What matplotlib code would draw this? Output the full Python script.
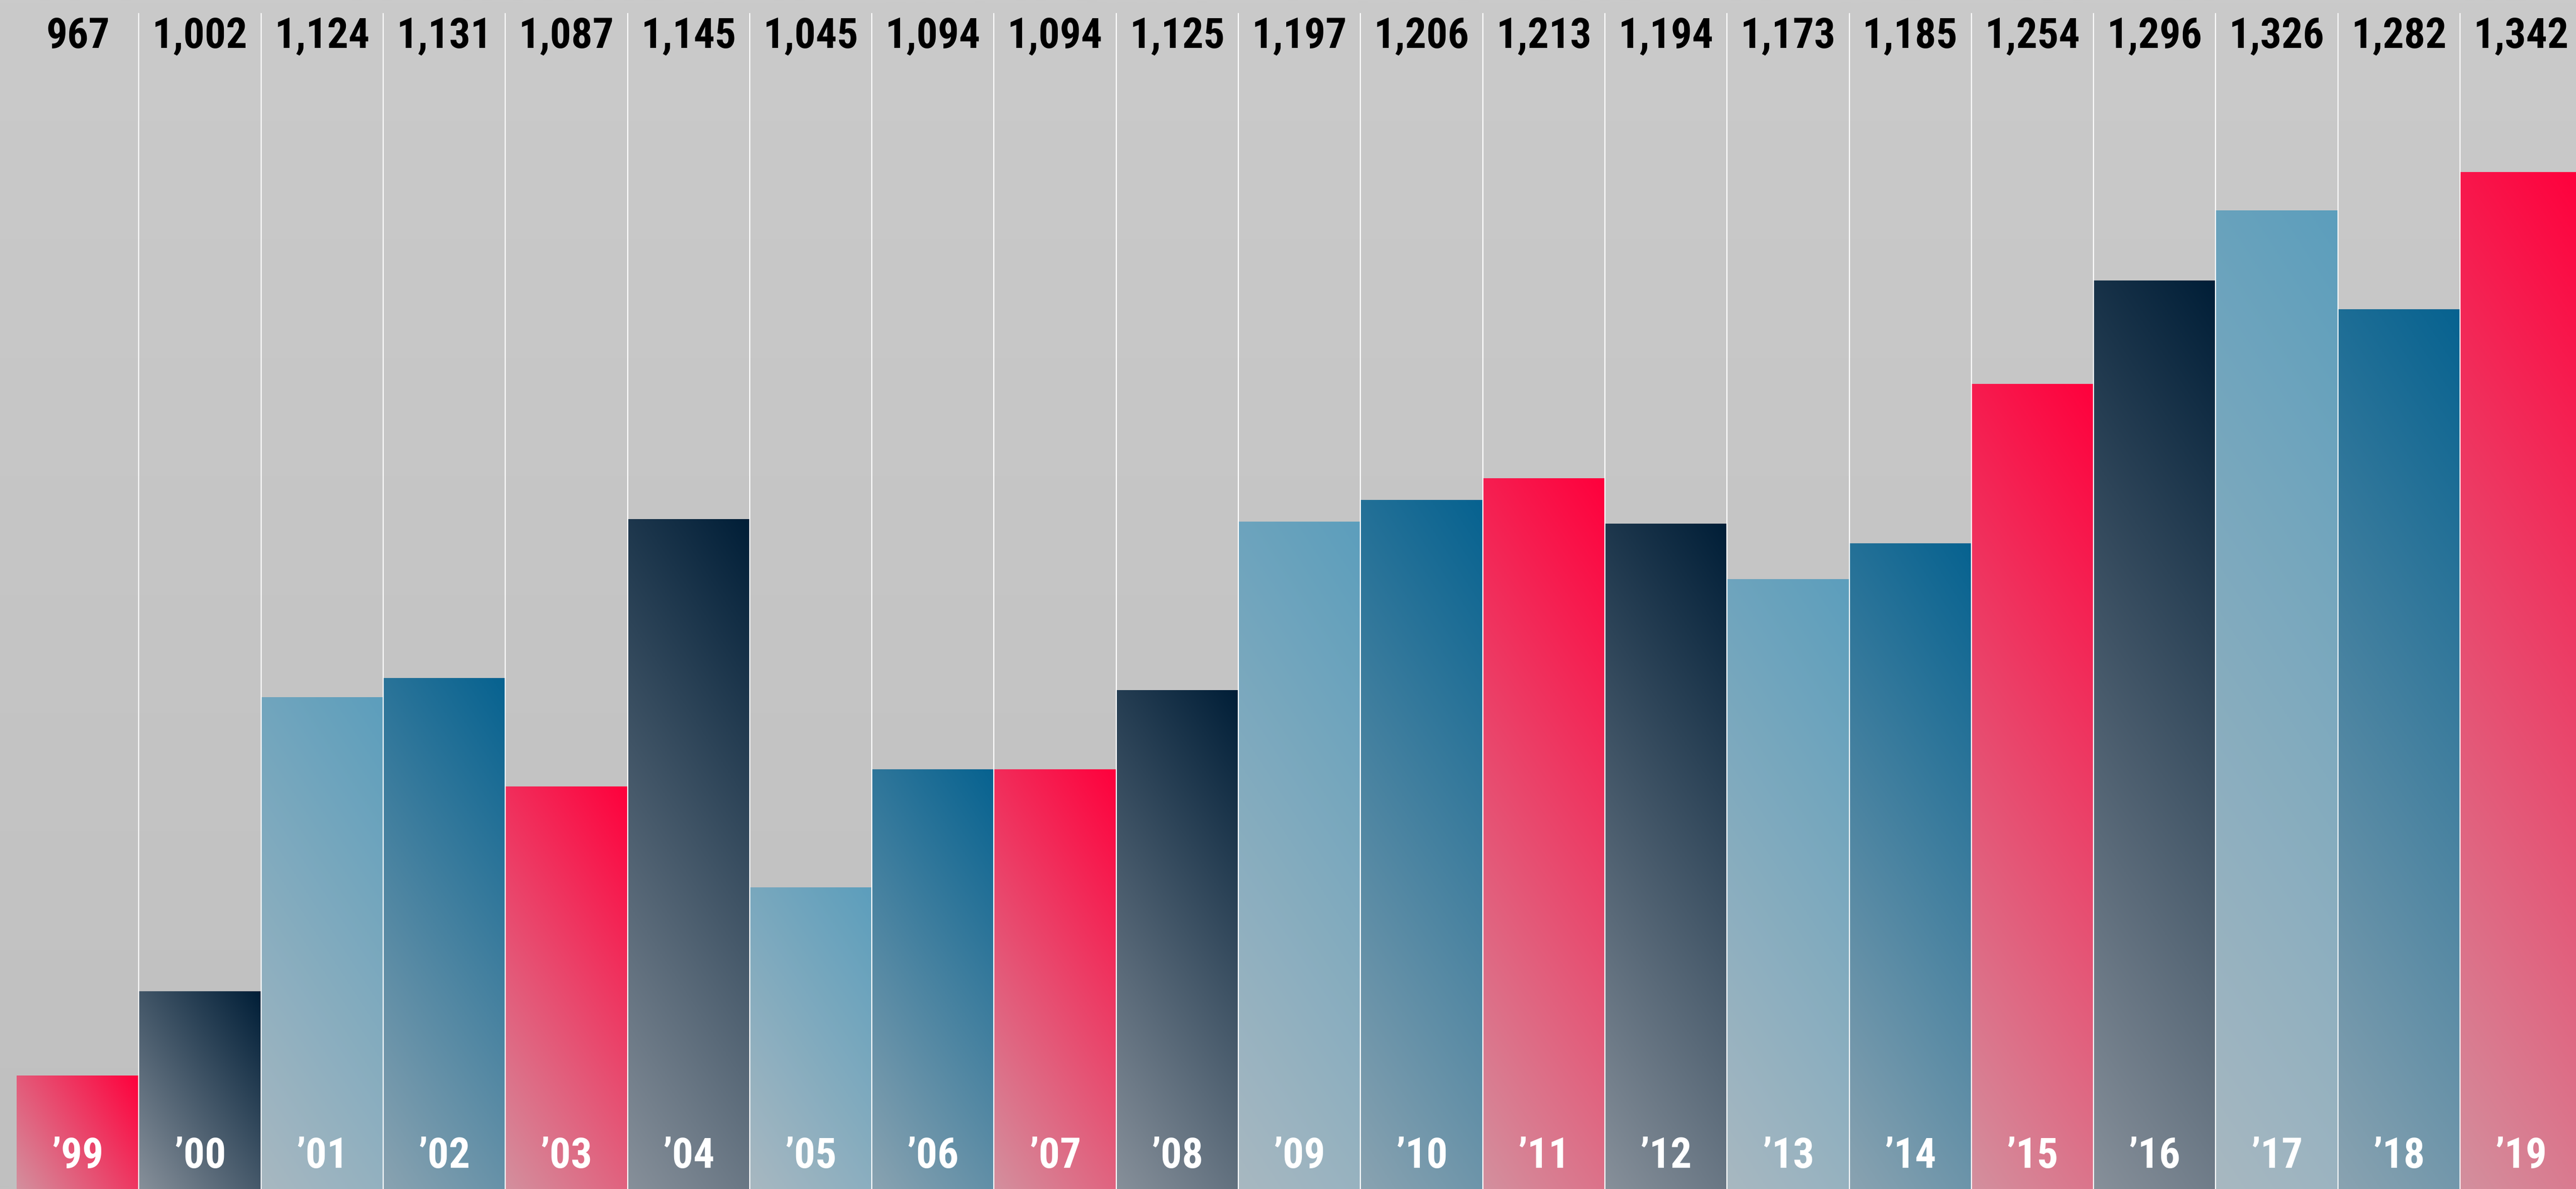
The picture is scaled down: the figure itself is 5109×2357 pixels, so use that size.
import numpy as np
import matplotlib
matplotlib.use("Agg")
import matplotlib.pyplot as plt
from matplotlib import font_manager
from matplotlib.colors import to_rgb

# ---------------- data ----------------
years = ["’99", "’00", "’01", "’02", "’03", "’04", "’05", "’06", "’07", "’08", "’09",
         "’10", "’11", "’12", "’13", "’14", "’15", "’16", "’17", "’18", "’19"]
value_labels = ["967", "1,002", "1,124", "1,131", "1,087", "1,145", "1,045", "1,094",
                "1,094", "1,125", "1,197", "1,206", "1,213", "1,194", "1,173", "1,185",
                "1,254", "1,296", "1,326", "1,282", "1,342"]
# bar heights as drawn in the picture
bar_values = [967, 1002, 1124, 1132, 1087, 1198, 1045, 1094, 1094, 1127, 1197,
              1206, 1215, 1196, 1173, 1188, 1254, 1297, 1326, 1285, 1342]

# colour schemes (strong end at top-right, pale end at bottom-left)
schemes = {
    "red":    ("#FF003C", "#D3909E"),
    "navy":   ("#001E37", "#87909A"),
    "light":  ("#5C9EBC", "#A8B8C1"),
    "medium": ("#066290", "#8AA3B1"),
}
scheme_cycle = ["red", "navy", "light", "medium"]

# ---------------- fonts ----------------
avail = {f.name for f in font_manager.fontManager.ttflist}
fam = [f for f in ["Liberation Sans Narrow", "DejaVu Sans Condensed", "Roboto Condensed",
                   "Liberation Sans", "DejaVu Sans"] if f in avail]
plt.rcParams["font.family"] = fam

W_PX, H_PX, DPI = 5109, 2357, 100
fig = plt.figure(figsize=(W_PX / DPI, H_PX / DPI), dpi=DPI)
ax = fig.add_axes([0, 0, 1, 1])
ax.set_axis_off()

y_base, y_top = 920, 1413.5
bar_px = 242.3
left_px = 33
xlim = (-0.5 - left_px / bar_px, -0.5 + (W_PX - left_px) / bar_px)
ylim = (y_base, y_top)

px_x = W_PX / (xlim[1] - xlim[0])
px_y = H_PX / (ylim[1] - ylim[0])

# background: subtle vertical gradient
bg = np.linspace(to_rgb("#C0C0C0"), to_rgb("#CACACA"), 256)[:, None, :]
ax.imshow(bg, extent=(xlim[0], xlim[1], ylim[0], ylim[1]), origin="lower",
          aspect="auto", interpolation="bilinear", zorder=0)

# gradient bars
theta = np.deg2rad(57)
sx, cy = np.sin(theta), np.cos(theta)
for i, v in enumerate(bar_values):
    strong, pale = schemes[scheme_cycle[i % 4]]
    strong, pale = np.array(to_rgb(strong)), np.array(to_rgb(pale))
    Wp = px_x * 1.0
    Hp = px_y * (v - y_base)
    nx = max(int(Wp), 2)
    ny = max(int(Hp), 2)
    xs = np.linspace(0, Wp, nx)
    ys = np.linspace(0, Hp, ny)
    X, Y = np.meshgrid(xs, ys)
    t = (X * sx + Y * cy) / (Wp * sx + Hp * cy)
    img = pale[None, None, :] + t[..., None] * (strong - pale)[None, None, :]
    ax.imshow(np.clip(img, 0, 1), extent=(i - 0.5, i + 0.5, y_base, v), origin="lower",
              aspect="auto", interpolation="bilinear", zorder=2)

# white separators
sep_top = 1 - 27 / H_PX
for i in range(len(bar_values) - 1):
    ax.axvline(i + 0.5, ymin=0, ymax=sep_top, color="white", lw=1.6, zorder=3)

# labels
fs = 60
for i, (lab, yr) in enumerate(zip(value_labels, years)):
    ax.text(i, 1 - 95 / H_PX, lab, transform=ax.get_xaxis_transform(), ha="center",
            va="baseline", fontsize=fs, fontweight="bold", color="black", zorder=5)
    ax.text(i, 42 / H_PX, yr, transform=ax.get_xaxis_transform(), ha="center",
            va="baseline", fontsize=fs, fontweight="bold", color="white", zorder=5)

ax.set_xlim(*xlim)
ax.set_ylim(*ylim)
fig.savefig("out.png", dpi=DPI)
